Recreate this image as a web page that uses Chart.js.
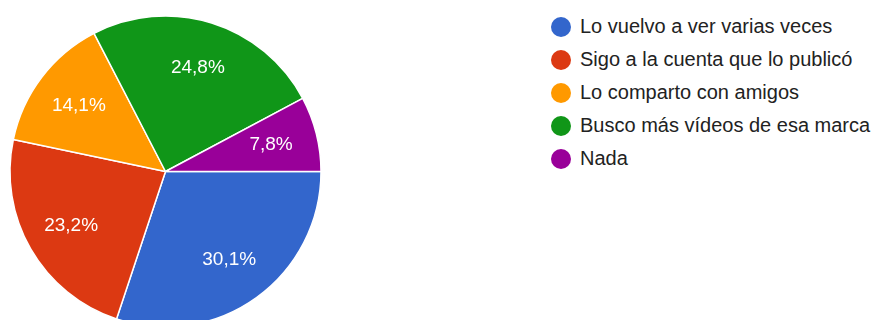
<!DOCTYPE html>
<html>
<head>
<meta charset="utf-8">
<script src="https://cdn.jsdelivr.net/npm/chart.js@4.4.1/dist/chart.umd.min.js"></script>
<style>
  html, body { margin: 0; padding: 0; background: #fff; overflow: hidden; }
  body { width: 882px; height: 320px; position: relative; font-family: "Liberation Sans", Arial, sans-serif; }
  #pieWrap { position: absolute; left: 0; top: 0; width: 331px; height: 343px; }
  #legend { position: absolute; left: 551px; top: 10px; }
  .legend-item { display: flex; align-items: center; height: 33px; font-size: 20px; color: #222; white-space: nowrap; }
  .legend-dot { width: 20px; height: 20px; border-radius: 50%; margin-right: 9px; flex: none; }
</style>
</head>
<body>
<div id="pieWrap"><canvas id="pie" width="331" height="343"></canvas></div>
<div id="legend"></div>
<script>
// --- Data ---
const labels = [
    'Lo vuelvo a ver varias veces',
    'Sigo a la cuenta que lo publicó',
    'Lo comparto con amigos',
    'Busco más vídeos de esa marca',
    'Nada'
];
const values = [30.1, 23.2, 14.1, 24.8, 7.8];
const colors = ['#3366cc', '#dc3912', '#ff9900', '#109618', '#990099'];

// --- Percent labels inside slices ---
const sliceLabels = {
    id: 'sliceLabels',
    afterDatasetsDraw(chart) {
        const { ctx } = chart;
        const meta = chart.getDatasetMeta(0);
        const total = values.reduce((a, b) => a + b, 0);
        ctx.save();
        ctx.fillStyle = '#ffffff';
        ctx.font = '19px "Liberation Sans", Arial, sans-serif';
        ctx.textAlign = 'center';
        ctx.textBaseline = 'middle';
        meta.data.forEach((arc, i) => {
            const p = arc.getProps(['x', 'y', 'startAngle', 'endAngle', 'outerRadius'], true);
            const mid = (p.startAngle + p.endAngle) / 2;
            const d = p.outerRadius * 0.7;
            const pct = (values[i] / total * 100).toFixed(1).replace('.', ',') + '%';
            ctx.fillText(pct, p.x + Math.cos(mid) * d, p.y + Math.sin(mid) * d);
        });
        ctx.restore();
    }
};

const ctx = document.getElementById('pie').getContext('2d');
const pieChart = new Chart(ctx, {
    type: 'pie',
    data: {
        labels: labels,
        datasets: [{
            data: values,
            backgroundColor: colors,
            borderColor: '#ffffff',
            borderWidth: 1.5,
            radius: 155.5
        }]
    },
    options: {
        responsive: false,
        animation: false,
        rotation: 90,
        layout: { padding: 0 },
        plugins: {
            legend: { display: false },
            tooltip: { enabled: false }
        }
    },
    plugins: [sliceLabels]
});

// --- Legend ---
const legendEl = document.getElementById('legend');
legendEl.innerHTML = labels.map((label, i) => `
    <div class="legend-item">
        <span class="legend-dot" style="background:${colors[i]}"></span>
        <span>${label}</span>
    </div>
`).join('');
</script>
</body>
</html>
